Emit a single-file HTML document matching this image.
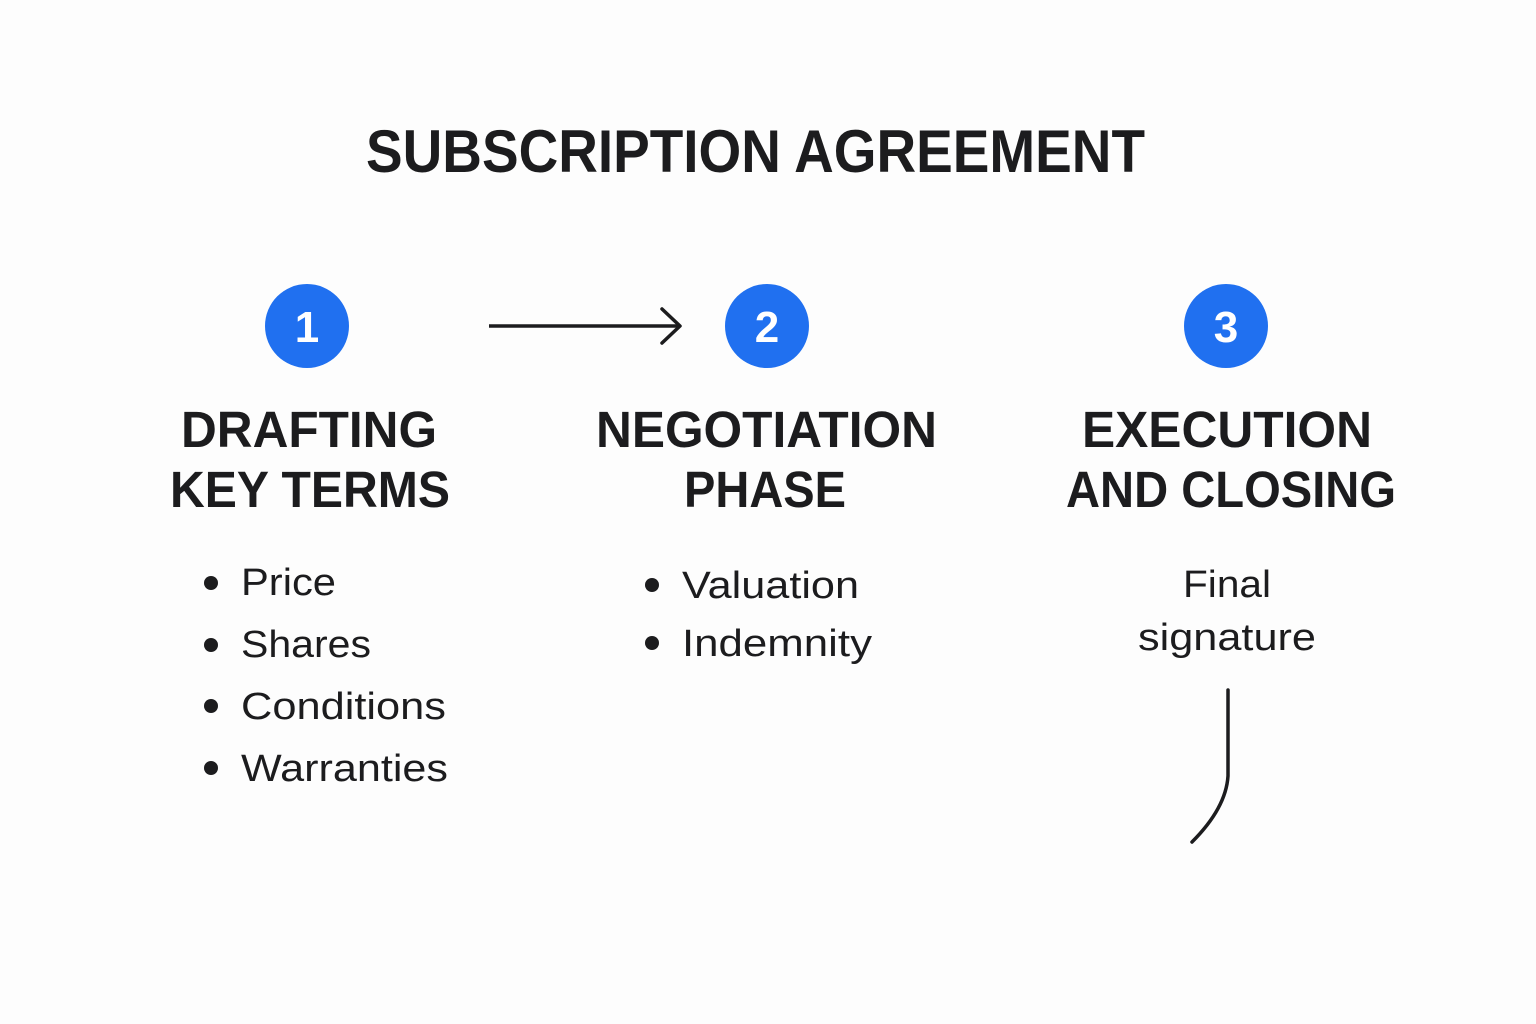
<!DOCTYPE html>
<html><head><meta charset="utf-8"><style>
html,body{margin:0;padding:0;background:#fdfdfd;}
svg{display:block}
text{font-family:"Liberation Sans",sans-serif;fill:#1c1c1e}
.h{font-weight:bold;font-size:51px}
.b{font-size:38px}
.n{font-weight:bold;font-size:44px;fill:#fff}
</style></head><body>
<svg width="1536" height="1024" viewBox="0 0 1536 1024" xmlns="http://www.w3.org/2000/svg">
<rect width="1536" height="1024" fill="#fdfdfd"/>
<text x="366" y="172" font-weight="bold" font-size="60" textLength="779" lengthAdjust="spacingAndGlyphs">SUBSCRIPTION AGREEMENT</text>

<circle cx="307" cy="326" r="42" fill="#2070f0"/>
<circle cx="767" cy="326" r="42" fill="#2070f0"/>
<circle cx="1226" cy="326" r="42" fill="#2070f0"/>
<text class="n" x="307" y="342" text-anchor="middle">1</text>
<text class="n" x="767" y="342" text-anchor="middle">2</text>
<text class="n" x="1226" y="342" text-anchor="middle">3</text>

<line x1="489" y1="326" x2="679" y2="326" stroke="#1c1c1e" stroke-width="3.5"/>
<polyline points="662,309 680,326 662,343" fill="none" stroke="#1c1c1e" stroke-width="3.5" stroke-linecap="round" stroke-linejoin="round"/>

<text class="h" x="181" y="447" textLength="256" lengthAdjust="spacingAndGlyphs">DRAFTING</text>
<text class="h" x="170" y="507" textLength="280" lengthAdjust="spacingAndGlyphs">KEY TERMS</text>
<text class="h" x="596" y="447" textLength="341" lengthAdjust="spacingAndGlyphs">NEGOTIATION</text>
<text class="h" x="684" y="507" textLength="162" lengthAdjust="spacingAndGlyphs">PHASE</text>
<text class="h" x="1082" y="447" textLength="290" lengthAdjust="spacingAndGlyphs">EXECUTION</text>
<text class="h" x="1066" y="507" textLength="330" lengthAdjust="spacingAndGlyphs">AND CLOSING</text>

<g fill="#1c1c1e">
<circle cx="211" cy="583" r="7"/><circle cx="211" cy="645" r="7"/><circle cx="211" cy="706" r="7"/><circle cx="211" cy="768" r="7"/>
<circle cx="652" cy="585" r="7"/><circle cx="652" cy="643" r="7"/>
</g>
<text class="b" x="241" y="595" textLength="95" lengthAdjust="spacingAndGlyphs">Price</text>
<text class="b" x="241" y="657" textLength="130" lengthAdjust="spacingAndGlyphs">Shares</text>
<text class="b" x="241" y="719" textLength="205" lengthAdjust="spacingAndGlyphs">Conditions</text>
<text class="b" x="241" y="781" textLength="207" lengthAdjust="spacingAndGlyphs">Warranties</text>
<text class="b" x="682" y="598" textLength="177" lengthAdjust="spacingAndGlyphs">Valuation</text>
<text class="b" x="682" y="656" textLength="190" lengthAdjust="spacingAndGlyphs">Indemnity</text>
<text class="b" x="1227" y="597" text-anchor="middle" textLength="88" lengthAdjust="spacingAndGlyphs">Final</text>
<text class="b" x="1227" y="650" text-anchor="middle" textLength="178" lengthAdjust="spacingAndGlyphs">signature</text>

<path d="M1228,690 L1228,776 Q1226,808 1192,842" fill="none" stroke="#1c1c1e" stroke-width="3.5" stroke-linecap="round"/>
</svg>
</body></html>
